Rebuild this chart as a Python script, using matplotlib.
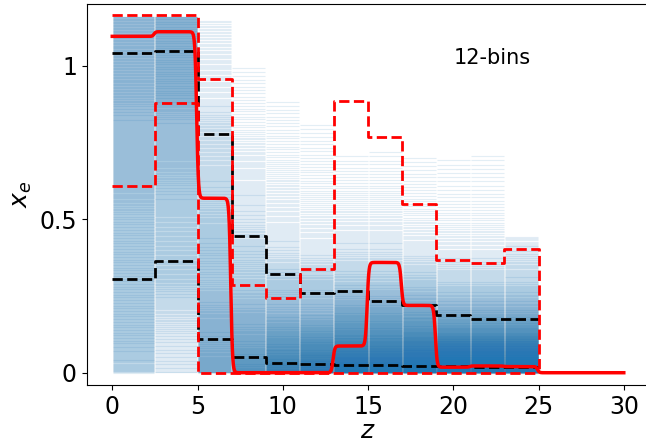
import numpy as np
import matplotlib.pyplot as plt

# bin edges in redshift
edges = [0, 2.5, 5, 7, 9, 11, 13, 15, 17, 19, 21, 23, 25]

# fiducial x_e per bin (red solid), zero after z=25
fid = [1.095, 1.11, 0.568, 0.0, 0.0, 0.0, 0.087, 0.359, 0.219, 0.018, 0.022, 0.02]
fid_after = 0.0

# 95% band (red dashed)
up95 = [1.165, 1.165, 0.957, 0.285, 0.244, 0.339, 0.885, 0.766, 0.549, 0.367, 0.357, 0.404]
lo95 = [0.609, 0.879, 0, 0, 0, 0, 0, 0, 0, 0, 0, 0]

# 68% band (black dashed)
up68 = [1.042, 1.046, 0.776, 0.445, 0.322, 0.261, 0.265, 0.234, 0.219, 0.187, 0.176, 0.176]
lo68 = [0.304, 0.363, 0.111, 0.051, 0.032, 0.027, 0.026, 0.024, 0.021, 0.022, 0.02, 0.02]

# sample shading per bin (darkness at x_e = 0, 0.1, ..., 1.1) and top of samples
levels = [0.0, 0.1, 0.2, 0.3, 0.4, 0.5, 0.6, 0.7, 0.8, 0.9, 1.0, 1.1]
samp_top = [1.16, 1.16, 1.15, 1.01, 0.90, 0.82, 0.72, 0.73, 0.71, 0.71, 0.72, 0.45]
shade = [
    [0.30, 0.35, 0.35, 0.35, 0.35, 0.35, 0.40, 0.40, 0.40, 0.45, 0.45, 0.45],
    [0.15, 0.15, 0.20, 0.30, 0.30, 0.30, 0.35, 0.40, 0.40, 0.50, 0.50, 0.50],
    [0.55, 0.50, 0.45, 0.35, 0.35, 0.30, 0.25, 0.20, 0.20, 0.10, 0.10, 0.08],
    [0.70, 0.55, 0.45, 0.30, 0.25, 0.15, 0.12, 0.10, 0.05, 0.04, 0.03, 0.0],
    [0.80, 0.65, 0.45, 0.30, 0.15, 0.10, 0.08, 0.05, 0.04, 0.03, 0.0, 0.0],
    [0.85, 0.70, 0.45, 0.30, 0.12, 0.08, 0.05, 0.04, 0.03, 0.0, 0.0, 0.0],
    [0.90, 0.75, 0.55, 0.30, 0.15, 0.08, 0.05, 0.03, 0.0, 0.0, 0.0, 0.0],
    [0.90, 0.75, 0.55, 0.30, 0.15, 0.08, 0.05, 0.03, 0.0, 0.0, 0.0, 0.0],
    [0.92, 0.78, 0.55, 0.30, 0.12, 0.06, 0.04, 0.03, 0.0, 0.0, 0.0, 0.0],
    [0.95, 0.80, 0.50, 0.25, 0.10, 0.05, 0.03, 0.03, 0.0, 0.0, 0.0, 0.0],
    [0.95, 0.80, 0.50, 0.25, 0.10, 0.05, 0.03, 0.03, 0.0, 0.0, 0.0, 0.0],
    [0.95, 0.80, 0.50, 0.25, 0.15, 0.0, 0.0, 0.0, 0.0, 0.0, 0.0, 0.0],
]

fig = plt.figure(figsize=(6.46, 4.45), dpi=100)
ax = fig.add_axes([0.1342, 0.1348, 0.871, 0.856])
ax.set_xlim(-1.5, 31.5)
ax.set_ylim(-0.04, 1.2)

# samples as faint horizontal lines, spaced so overlap gives the shade
alpha = 0.12
px_per_unit = 0.856 * 445 / 1.24
for i in range(12):
    yy = np.linspace(0, samp_top[i], 3000)
    D = np.clip(np.interp(yy, levels, shade[i]), 0, 0.97)
    dens = np.log(1 - D) / np.log(1 - alpha) * px_per_unit
    cum = np.concatenate([[0], np.cumsum(0.5 * (dens[1:] + dens[:-1]) * np.diff(yy))])
    n = int(cum[-1])
    ys = np.interp(np.arange(n) + 0.5, cum, yy)
    ax.hlines(ys, edges[i] + 0.03, edges[i + 1] - 0.03, color='C0', alpha=alpha, lw=0.8)

# credible bands
ax.step(edges, up68 + [up68[-1]], where='post', color='k', ls='--', lw=2)
ax.step(edges, lo68 + [lo68[-1]], where='post', color='k', ls='--', lw=2)
ax.step(edges, up95 + [0], where='post', color='r', ls='--', lw=2)
ax.step(edges, lo95 + [0], where='post', color='r', ls='--', lw=2)

# fiducial history, smoothed steps
z = np.linspace(0, 30, 3001)
vals = fid + [fid_after]
xe = np.full_like(z, vals[0])
for k in range(1, len(vals)):
    xe += (vals[k] - vals[k - 1]) * 0.5 * (1 + np.tanh((z - edges[k] + 0.05) / 0.1))
ax.plot(z, xe, color='r', lw=2.5)

ax.text(20, 1.025, '12-bins', fontsize=15, va='center')
ax.set_xticks([0, 5, 10, 15, 20, 25, 30])
ax.set_yticks([0, 0.5, 1])
ax.set_yticklabels(['0', '0.5', '1'])
ax.tick_params(labelsize=17)
ax.set_xlabel('$z$', fontsize=18, labelpad=0)
ax.set_ylabel('$x_e$', fontsize=18)

fig.savefig('out.png', dpi=100)
